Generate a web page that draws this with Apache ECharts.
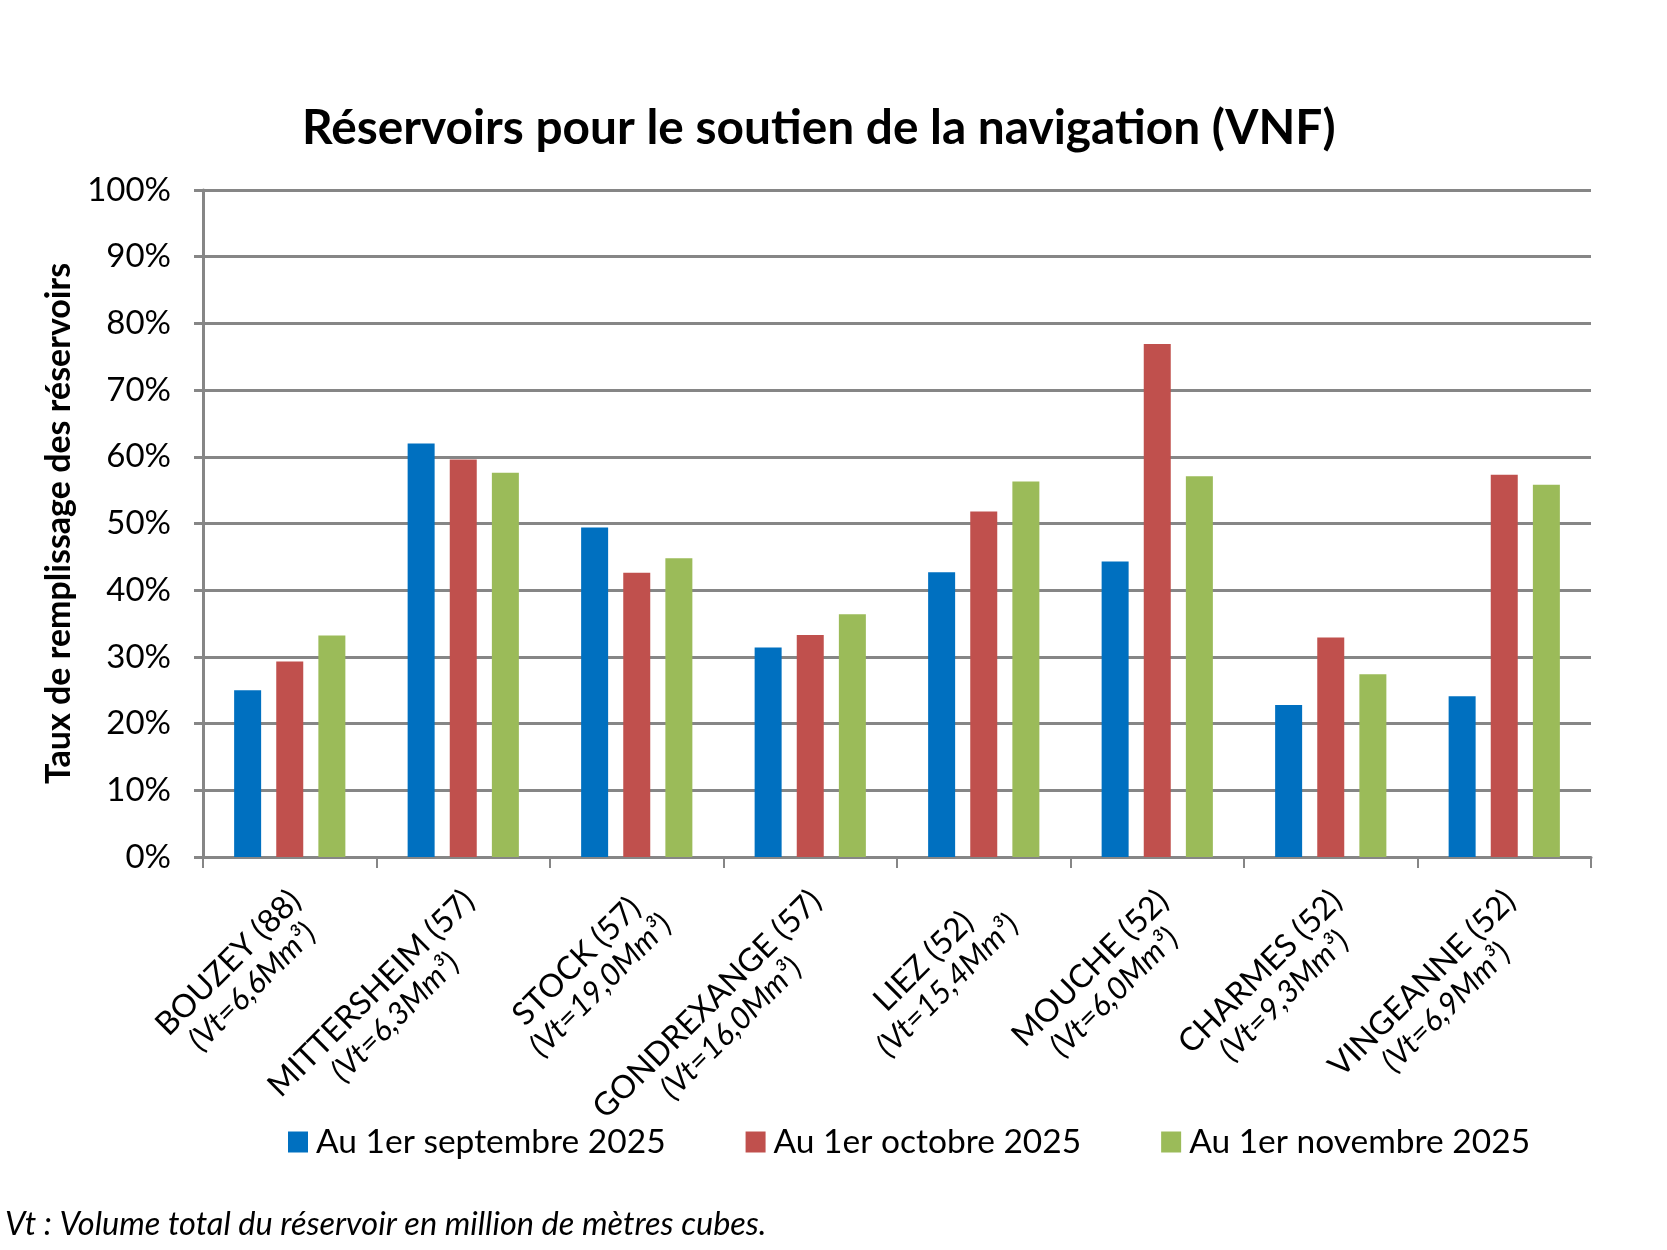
<!DOCTYPE html>
<html><head><meta charset="utf-8">
<script src="https://cdn.jsdelivr.net/npm/echarts@6/dist/echarts.min.js"></script>
<style>html,body{margin:0;padding:0;background:#fff}#c{width:1667px;height:1250px}</style>
</head><body><div id="c"></div>
<script>
const reservoirs = ['BOUZEY (88)', 'MITTERSHEIM (57)', 'STOCK (57)', 'GONDREXANGE (57)', 'LIEZ (52)', 'MOUCHE (52)', 'CHARMES (52)', 'VINGEANNE (52)'];
const volumes = ['(Vt=6,6Mm³)', '(Vt=6,3Mm³)', '(Vt=19,0Mm³)', '(Vt=16,0Mm³)', '(Vt=15,4Mm³)', '(Vt=6,0Mm³)', '(Vt=9,3Mm³)', '(Vt=6,9Mm³)'];
const seriesNames = ['Au 1er septembre 2025', 'Au 1er octobre 2025', 'Au 1er novembre 2025'];
const septembre = [25.0, 62.0, 49.4, 31.4, 42.7, 44.3, 22.8, 24.1];
const octobre = [29.3, 59.6, 42.6, 33.3, 51.8, 76.9, 32.9, 57.3];
const novembre = [33.2, 57.6, 44.8, 36.4, 56.3, 57.1, 27.4, 55.8];
const colors = ['#0070C0', '#C0504D', '#9BBB59'];
const FONT = 'Lato, "DejaVu Sans", sans-serif';

const chart = echarts.init(document.getElementById('c'));
const values = [septembre, octobre, novembre];
chart.setOption({
  animation: false,
  backgroundColor: '#ffffff',
  title: {
    text: 'Réservoirs pour le soutien de la navigation (VNF)',
    left: 297, top: 100,
    textStyle: { fontFamily: FONT, fontSize: 47.8, fontWeight: 'bold', color: '#000' }
  },
  legend: {
    data: seriesNames,
    left: 283, top: 1120,
    itemWidth: 20, itemHeight: 21, itemGap: 80,
    icon: 'rect',
    textStyle: { fontFamily: FONT, fontSize: 33.5, color: '#000', padding: [0, 0, 0, 3] }
  },
  graphic: [{
    type: 'text', left: 5, top: 1208,
    style: { text: 'Vt : Volume total du réservoir en million de mètres cubes.', font: 'italic 32.5px ' + FONT, fill: '#000' }
  }],
  grid: { left: 203, right: 76, top: 190, bottom: 393, containLabel: false },
  xAxis: {
    type: 'category',
    data: reservoirs,
    axisLine: { lineStyle: { color: '#868686', width: 3 } },
    axisTick: { show: true, length: 11, alignWithLabel: false, lineStyle: { color: '#868686', width: 2 } },
    axisLabel: {
      interval: 0, rotate: 45, margin: 50,
      padding: [26, -12, 0, 0],
      formatter: (v, i) => '{a|' + v + '}\n{b|' + volumes[i] + '}',
      rich: {
        a: { fontFamily: FONT, fontSize: 32, color: '#000', align: 'center', lineHeight: 34 },
        b: { fontFamily: FONT, fontSize: 31, fontStyle: 'italic', color: '#000', align: 'center', lineHeight: 34 }
      }
    }
  },
  yAxis: {
    type: 'value', min: 0, max: 100, interval: 10,
    name: 'Taux de remplissage des réservoirs',
    nameLocation: 'middle', nameGap: 127,
    nameTextStyle: { fontFamily: FONT, fontSize: 34, fontWeight: 'bold', color: '#000' },
    axisLine: { show: true, lineStyle: { color: '#868686', width: 3 } },
    axisTick: { show: true, length: 9, lineStyle: { color: '#868686', width: 3 } },
    axisLabel: { formatter: '{value}%', fontFamily: FONT, fontSize: 33, color: '#000', margin: 32 },
    splitLine: { lineStyle: { color: '#868686', width: 3 } }
  },
  series: seriesNames.map((n, k) => ({
    name: n, type: 'bar', data: values[k],
    barWidth: 27, barGap: '56%',
    itemStyle: { color: colors[k] }
  }))
});
</script></body></html>
